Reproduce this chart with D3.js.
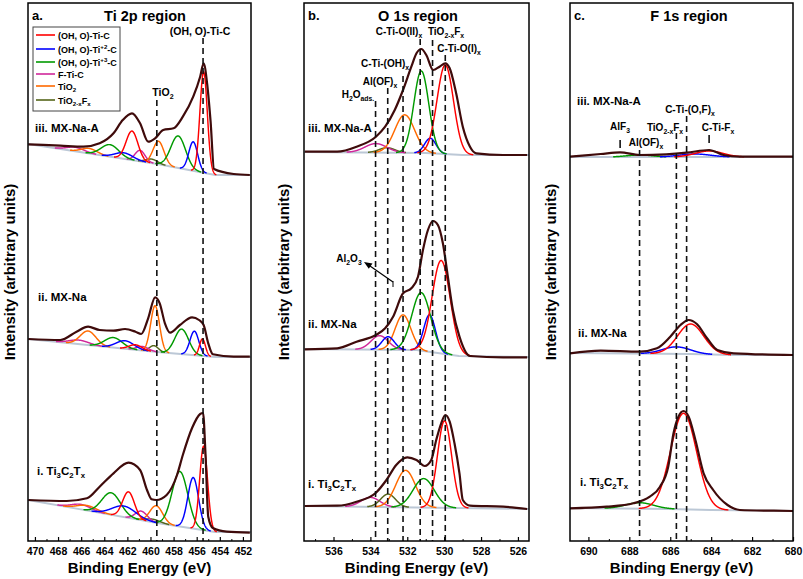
<!DOCTYPE html>
<html><head><meta charset="utf-8">
<script src="https://cdn.jsdelivr.net/npm/d3@7"></script>
<style>
body{margin:0;background:#fff}
svg{display:block}
text{font-family:"Liberation Sans",Arial,Helvetica,sans-serif;font-weight:bold;fill:#000}
</style>
</head><body>
<svg id="chart" width="803" height="579"></svg>
<script>
// ---------------- DATA ----------------
const panelLetters = ["a.", "b.", "c."];
const panelTitles = ["Ti 2p region", "O 1s region", "F 1s region"];
const xDomains = [[470.6, 451.3], [537.6, 525.4], [690.9, 680.0]];
const majorTicksA = [470, 468, 466, 464, 462, 460, 458, 456, 454, 452];
const minorTicksA = [469, 467, 465, 463, 461, 459, 457, 455, 453];
const majorTicksB = [536, 534, 532, 530, 528, 526];
const minorTicksB = [537, 535, 533, 531, 529, 527];
const majorTicksC = [690, 688, 686, 684, 682, 680];
const minorTicksC = [689, 687, 685, 683, 681];
const sampleNames = ["iii. MX-Na-A", "ii. MX-Na", "i. Ti_3C_2T_x"];
const legendLabels = ["(OH, O)-Ti-C", "(OH, O)-Ti^{+2}-C", "(OH, O)-Ti^{+3}-C", "F-Ti-C", "TiO_2", "TiO_{2-x}F_x"];
const legendKeys = ["red", "blue", "green", "magenta", "orange", "olive"];

// envelopes [binding energy, intensity]
const envA3 = [[470.57,396.7],[467.8,395.3],[465.8,394.3],[464.4,397.7],[463.2,407.7],[462.4,421],[461.6,427.7],[460.9,417.7],[460.2,399.3],[459.6,402.7],[458.9,411],[458.0,412.7],[457.2,424.3],[456.3,444.3],[455.7,464.3],[455.4,477.7],[455.1,457.7],[454.8,420],[454.5,372],[452.8,367],[451.4,366]];
const envA2 = [[470.57,202],[467.8,201],[466.4,209.3],[465.4,214.3],[464.4,211],[463.2,210.3],[462.2,212],[461.3,209.3],[460.8,207],[460.2,222.7],[459.6,243.7],[459.2,237.7],[458.75,217.7],[458.3,208.3],[457.45,216],[456.4,223.7],[455.8,221],[455.4,216],[455.0,197.7],[454.6,186.7],[452.8,184.3],[451.4,184.3]];
const envA1 = [[470.57,41],[467.25,40],[465.5,42.7],[464.4,54.3],[463.2,67.7],[461.9,78.3],[460.9,71],[460.3,51],[459.9,41.7],[459.5,41],[458.6,46],[457.7,66],[457.2,86],[456.4,113],[455.7,127],[455.45,128],[455.25,90],[455.0,24.3],[454.6,13],[453.4,9.3],[451.4,8.3]];
const envB3 = [[537.55,389.3],[535.8,389.3],[534.75,394.3],[533.7,404.3],[533.2,414.3],[532.68,431],[532.23,451],[531.78,474.3],[531.5,487.7],[531.24,492],[530.97,486],[530.6,471],[530.25,474.3],[529.94,477.7],[529.7,472.7],[529.35,447.7],[528.99,414.3],[528.6,394.3],[528.26,387.7],[526.8,386],[525.5,386]];
const envB2 = [[537.55,191.7],[535.8,192.7],[534.75,199.3],[533.7,206],[533.2,212.7],[532.77,224.3],[532.23,247.7],[531.78,252.7],[531.42,264.3],[531.15,291],[530.88,311],[530.6,320],[530.34,316],[530.07,297.7],[529.8,264.3],[529.53,231],[529.17,204.3],[528.6,185],[526.8,183.7],[525.5,183.7]];
const envB1 = [[537.55,35],[535.8,35.3],[534.75,39.3],[533.7,48.3],[533.13,61],[532.6,76],[532.0,83.7],[531.5,81],[531.05,75],[530.7,81],[530.43,101],[530.16,117.7],[529.94,126],[529.7,119.3],[529.44,97.7],[529.17,67.7],[528.99,41],[528.6,35.3],[526.8,34.3],[525.5,32]];
const envC3 = [[690.9,384.3],[689.4,387],[688.45,388.7],[687.5,386],[686.2,386.7],[685.2,388.3],[684.1,391],[683.4,386],[682.6,384.3],[679.95,384.3]];
const envC2 = [[690.9,187.7],[689.4,190.3],[687.5,189.3],[686.65,192.7],[686.0,204.3],[685.5,216],[685.1,221],[684.7,217],[684.2,202.7],[683.7,191],[682.9,187.7],[679.95,186]];
const envC1 = [[690.9,32.7],[689.1,34.3],[687.8,37.7],[687.0,44.3],[686.5,54.3],[686.1,74.3],[685.84,107.7],[685.6,124.3],[685.35,130],[685.1,124.3],[684.77,101],[684.37,67.7],[683.9,51],[683.2,36],[682.6,31],[680.93,30.3],[679.95,30]];

// backgrounds
const bgA3 = [[470.6,397],[459.4,377],[454.4,366],[451.3,366]];
const bgA2 = [[470.6,202],[459.4,189],[454.4,184],[451.3,184]];
const bgA1 = [[470.6,41],[459.4,18],[454.4,9],[451.3,9]];
const bgB3 = [[537.6,389],[531,388],[529,386],[525.4,386]];
const bgB2 = [[537.6,192],[531.5,191],[529.2,185],[525.4,184]];
const bgB1 = [[537.6,35],[525.4,32]];
const bgC3 = [[690.9,384],[679.95,384]];
const bgC2 = [[690.9,188],[685,187],[683,186],[679.95,186]];
const bgC1 = [[690.9,33],[686,32],[684,31],[679.95,30]];

// fitted components: [colour key, [[centre eV, height, FWHM], ...]]
const peaksA3 = [["olive",[[459.9,4,1.2]]],["magenta",[[460.9,11,1.0],[466.5,4,1.8]]],["orange",[[459.3,23,1.1],[465.3,5,1.6]]],["green",[[457.6,32,1.5],[463.5,12,1.8]]],["blue",[[456.3,29,0.9],[462.3,6,1.8]]],["red",[[455.4,101,0.75],[461.6,29,1.2]]]];
const peaksA2 = [["olive",[[459.7,6,0.9]]],["magenta",[[460.7,4,1.2],[466.2,4,2.0]]],["orange",[[459.6,46,0.9],[465.4,14,1.6]]],["green",[[457.3,25,1.4],[463.2,10,1.8]]],["blue",[[456.2,24,0.9],[462.2,8,1.8]]],["red",[[455.5,17,0.6],[461.3,5,1.3]]]];
const peaksA1 = [["olive",[[459.8,3,1.5]]],["magenta",[[460.8,9,1.2],[466.0,5,2.0]]],["orange",[[459.5,17,1.3],[465.5,5,2.0]]],["green",[[457.45,55,1.6],[463.4,22,1.9]]],["blue",[[456.3,51,1.1],[462.3,11,2.4]]],["red",[[455.4,84,0.8],[461.9,26,1.2]]]];
const peaksB3 = [["olive",[[533.1,5,1.0]]],["magenta",[[533.7,9,1.4]]],["orange",[[532.14,38,1.26]]],["blue",[[530.75,15,0.72]]],["green",[[531.24,82,0.95]]],["red",[[529.94,89,1.05]]]];
const peaksB2 = [["magenta",[[533.5,14,1.1]]],["orange",[[532.23,35,1.0]]],["blue",[[530.79,37,0.75],[533.04,13,0.8]]],["green",[[531.24,58,1.2]]],["red",[[530.16,93,1.15]]]];
const peaksB1 = [["magenta",[[534.0,9.5,1.2]]],["olive",[[533.04,13,0.95]]],["orange",[[532.09,37,1.25]]],["green",[[531.11,29,1.35]]],["red",[[529.98,87,0.9]]]];
const peaksC3 = [["green",[[687.5,2,1.5]]],["blue",[[684.8,3,1.8]]],["red",[[684.1,6,1.6]]]];
const peaksC2 = [["blue",[[685.7,7,1.6]]],["red",[[685.0,30,1.5]]]];
const peaksC1 = [["green",[[687.5,6,1.6]]],["red",[[685.35,96,1.5]]]];

// annotations
const markersA = [[459.45,"TiO_2",100],[455.45,"(OH, O)-Ti-C",38]];
const markersB = [[533.72,"H_2O_{ads.}",101],[533.06,"Al(OF)_x",88],[532.23,"C-Ti-(OH)_x",76],[531.3,"C-Ti-O(II)_x",39],[530.63,"TiO_{2-x}F_x",40],[529.94,"C-Ti-O(I)_x",55]];
const markersC = [[687.5,"Al(OF)_x",150],[685.7,"TiO_{2-x}F_x",133],[685.2,"C-Ti-(O,F)_x",116]];
const shortMarkersC = [[688.45,"AlF_3",140],[684.1,"C-Ti-F_x",135]];

// ---------------- DRAWING ----------------
const colours = {red:"#ff0000", blue:"#0000ff", green:"#009a00", magenta:"#d0279a", orange:"#ff6a00", olive:"#55661a"};
const frames = [[28,251],[304,529],[570,793]];
const TOP = 3, BOTTOM = 541;
const svg = d3.select("#chart");
const y = d3.scaleLinear().domain([0,538]).range([BOTTOM, TOP]);

function rich(sel, str, fs){
  const re = /(_\{[^}]*\}|\^\{[^}]*\}|_[^{])/g;
  const parts = []; let last = 0, m;
  while((m = re.exec(str))){
    if(m.index > last) parts.push([str.slice(last, m.index), 0]);
    const t = m[0];
    parts.push([t[1] === "{" ? t.slice(2,-1) : t.slice(1), t[0] === "_" ? 1 : -1]);
    last = re.lastIndex;
  }
  if(last < str.length) parts.push([str.slice(last), 0]);
  let cur = 0;
  parts.forEach(([t, type]) => {
    const target = type === 1 ? 0.3*fs : type === -1 ? -0.4*fs : 0;
    const ts = sel.append("tspan").text(t);
    if(target !== cur) ts.attr("dy", target - cur);
    if(type !== 0) ts.attr("font-size", (fs*0.68).toFixed(1));
    cur = target;
  });
  return sel;
}

const panels = [
  {env:[envA3,envA2,envA1], bg:[bgA3,bgA2,bgA1], peaks:[peaksA3,peaksA2,peaksA1], major:majorTicksA, minor:minorTicksA, markers:markersA, labelPos:[[35,132],[38,301],[37,475]], step:0.02},
  {env:[envB3,envB2,envB1], bg:[bgB3,bgB2,bgB1], peaks:[peaksB3,peaksB2,peaksB1], major:majorTicksB, minor:minorTicksB, markers:markersB, labelPos:[[308,132],[308,328],[308,488]], step:0.01},
  {env:[envC3,envC2,envC1], bg:[bgC3,bgC2,bgC1], peaks:[peaksC3,peaksC2,peaksC1], major:majorTicksC, minor:minorTicksC, markers:markersC, labelPos:[[577,105],[578,337],[580,486]], step:0.01}
];
const yTitleBase = [15, 289, 556];

panels.forEach((p, i) => {
  const [x0, x1] = frames[i];
  const dom = xDomains[i];
  const x = d3.scaleLinear().domain(dom).range([x0, x1]);
  const g = svg.append("g");
  const clipId = "clip" + i;
  svg.append("clipPath").attr("id", clipId).append("rect").attr("x", x0).attr("y", TOP).attr("width", x1-x0).attr("height", BOTTOM-TOP);
  const pg = g.append("g").attr("clip-path", `url(#${clipId})`);

  p.bg.forEach((bg, k) => {
    const bgScale = d3.scaleLinear().domain(bg.map(d=>d[0])).range(bg.map(d=>d[1])).clamp(true);
    pg.append("path").datum(bg)
      .attr("d", d3.line().x(d=>x(d[0])).y(d=>y(d[1])))
      .attr("fill","none").attr("stroke","#bcc8d6").attr("stroke-width",1.8);
    p.peaks[k].forEach(([col, pk]) => {
      const pts = d3.range(dom[0], dom[1], -p.step).map(E => {
        const h = d3.sum(pk, q => q[1]*Math.exp(-4*Math.LN2*((E-q[0])/q[2])**2));
        return [E, h, bgScale(E) + h];
      });
      pg.append("path").datum(pts)
        .attr("d", d3.line().defined(d=>d[1] > 0.25).x(d=>x(d[0])).y(d=>y(d[2])))
        .attr("fill","none").attr("stroke", colours[col]).attr("stroke-width",1.45);
    });
    pg.append("path").datum(p.env[k])
      .attr("d", d3.line().curve(d3.curveMonotoneX).x(d=>x(d[0])).y(d=>y(d[1])))
      .attr("fill","none").attr("stroke","#3f0b0b").attr("stroke-width",2.2).attr("stroke-linejoin","round");
  });

  // dashed reference lines
  p.markers.forEach(([E, lab, yTop]) => {
    g.append("line").attr("x1", x(E)).attr("x2", x(E)).attr("y1", yTop).attr("y2", BOTTOM)
      .attr("stroke","#111").attr("stroke-width",1.6).attr("stroke-dasharray","6,4");
  });

  // frame
  g.append("rect").attr("x", x0).attr("y", TOP).attr("width", x1-x0).attr("height", BOTTOM-TOP)
    .attr("fill","none").attr("stroke","#000").attr("stroke-width",1.5);

  // axes (ticks inward)
  const ax = d3.axisBottom(x).tickValues(p.major).tickSizeInner(-4).tickSizeOuter(0).tickPadding(7).tickFormat(d3.format("d"));
  const ag = g.append("g").attr("transform", `translate(0,${BOTTOM})`).call(ax);
  ag.select(".domain").remove();
  ag.selectAll("line").attr("stroke","#000").attr("stroke-width",1.2);
  ag.selectAll("text").attr("font-size",10.5).attr("font-family","Liberation Sans, Arial, sans-serif").attr("font-weight","bold");
  const mg = g.append("g").attr("transform", `translate(0,${BOTTOM})`)
    .call(d3.axisBottom(x).tickValues(p.minor).tickSizeInner(-2).tickSizeOuter(0).tickFormat(""));
  mg.select(".domain").remove();
  mg.selectAll("line").attr("stroke","#000").attr("stroke-width",1);

  // titles
  g.append("text").attr("x", (x0+x1)/2).attr("y", 573).attr("text-anchor","middle").attr("font-size",15).text("Binding Energy (eV)");
  g.append("text").attr("transform", `translate(${yTitleBase[i]},272) rotate(-90)`).attr("text-anchor","middle").attr("font-size",15).text("Intensity (arbitrary units)");
  g.append("text").attr("x", x0+4).attr("y", 20).attr("font-size",13).text(panelLetters[i]);

  // sample labels
  sampleNames.forEach((s, k) => {
    rich(g.append("text").attr("x", p.labelPos[k][0]).attr("y", p.labelPos[k][1]).attr("font-size",11.5), s, 11.5);
  });
});

// panel titles
[145, 418, 689].forEach((cx, i) => {
  svg.append("text").attr("x", cx).attr("y", 21).attr("text-anchor","middle").attr("font-size",14.5).text(panelTitles[i]);
});

// annotation labels
const ann = svg.append("g");
function label(xp, yp, s, fs, anchor){
  rich(ann.append("text").attr("x", xp).attr("y", yp).attr("font-size", fs).attr("text-anchor", anchor || "middle"), s, fs);
}
label(163, 96, markersA[0][1], 10.5);
label(200, 35, markersA[1][1], 10.5);
label(358, 98, markersB[0][1], 10);
label(380, 85, markersB[1][1], 10);
label(385, 67, markersB[2][1], 10);
label(399, 35, markersB[3][1], 10);
label(446, 35, markersB[4][1], 10);
label(459, 52, markersB[5][1], 10);
label(349, 262, "Al_2O_3", 10);
label(620, 130, shortMarkersC[0][1], 10);
label(646, 146, markersC[0][1], 10);
label(665, 131, markersC[1][1], 10);
label(690, 113, markersC[2][1], 10);
label(718, 131, shortMarkersC[1][1], 10);

// short marker ticks in panel c
const xc = d3.scaleLinear().domain(xDomains[2]).range(frames[2]);
shortMarkersC.forEach(([E,,yt]) => {
  ann.append("line").attr("x1", xc(E)).attr("x2", xc(E)).attr("y1", yt).attr("y2", yt+8).attr("stroke","#111").attr("stroke-width",1.6);
});

// Al2O3 arrow
ann.append("line").attr("x1",393).attr("y1",287).attr("x2",393).attr("y2",281).attr("stroke","#000").attr("stroke-width",1);
ann.append("line").attr("x1",393).attr("y1",282).attr("x2",370).attr("y2",266).attr("stroke","#000").attr("stroke-width",1.2);
ann.append("path").attr("d","M364,262 L372.5,263.5 L368.8,268.8 Z").attr("fill","#000");

// legend
const lg = svg.append("g");
lg.append("rect").attr("x",33).attr("y",27).attr("width",87).attr("height",84).attr("fill","#fff").attr("stroke","#444").attr("stroke-width",1);
const legY = [35, 49, 62, 74, 86, 100];
legendLabels.forEach((s, k) => {
  lg.append("line").attr("x1",36).attr("x2",55).attr("y1",legY[k]).attr("y2",legY[k]).attr("stroke",colours[legendKeys[k]]).attr("stroke-width",1.6);
  rich(lg.append("text").attr("x",58).attr("y",legY[k]+3.5).attr("font-size",9), s, 9);
});
</script>
</body></html>
